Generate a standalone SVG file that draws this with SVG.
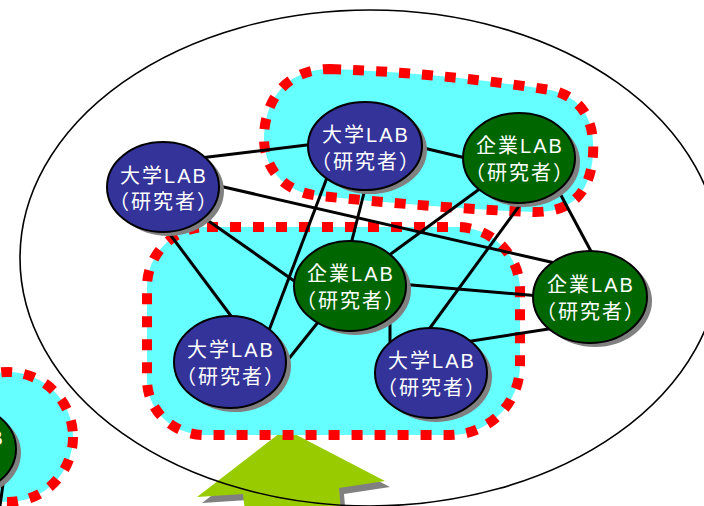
<svg xmlns="http://www.w3.org/2000/svg" width="704" height="506" viewBox="0 0 704 506">
<style>
.blob{fill:#66FFFF;stroke:#FF0000;stroke-width:10;stroke-dasharray:11 12}
.edge{stroke:#000;stroke-width:3;fill:none;stroke-linecap:butt}
.shadow{fill:#808080}
.univ{fill:#333399;stroke:#000;stroke-width:2}
.corp{fill:#006600;stroke:#000;stroke-width:2}
.lbl{font-family:"Liberation Sans","Noto Sans CJK JP",sans-serif;font-size:20px;fill:#fff;text-anchor:middle;letter-spacing:2px}
</style>
<rect width="704" height="506" fill="#fff"/>
<g id="arrow">
<polygon class="shadow" points="290,435 390,487 344,494 346,518 250,518 248,500 202,503"/>
<polygon fill="#99CC00" points="285,429 385,481 339,488 341,512 245,512 243,494 197,497"/>
</g>
<ellipse id="boundary" cx="370" cy="258" rx="350" ry="248" fill="none" stroke="#000" stroke-width="1.6"/>
<g id="blobs">
<circle class="blob" cx="8" cy="437" r="65"/>
<path class="blob" d="M 330,69 C 420,72 500,82 550,90 C 585,97 595,125 593,155 C 590,195 570,212 535,212 C 470,210 380,202 320,196 C 280,192 263,165 264,135 C 266,95 290,69 330,69 Z"/>
<path class="blob" d="M 207,227 L 457,227 A 63 63 0 0 1 520,290 L 520,365 A 70 70 0 0 1 450,435 L 205,435 A 58 55 0 0 1 147,380 L 147,287 A 60 60 0 0 1 207,227 Z"/>
</g>
<g id="connectors">
<line class="edge" x1="200" y1="158" x2="315" y2="144"/>
<line class="edge" x1="215" y1="185" x2="555" y2="263"/>
<line class="edge" x1="200" y1="215" x2="300" y2="285"/>
<line class="edge" x1="163" y1="225" x2="234" y2="320"/>
<line class="edge" x1="328" y1="175" x2="268" y2="333"/>
<line class="edge" x1="366" y1="185" x2="350" y2="248"/>
<line class="edge" x1="415" y1="146" x2="470" y2="159"/>
<line class="edge" x1="485" y1="185" x2="388" y2="256"/>
<line class="edge" x1="525" y1="198" x2="427" y2="332"/>
<line class="edge" x1="556" y1="186" x2="593" y2="255"/>
<line class="edge" x1="400" y1="284" x2="540" y2="296"/>
<line class="edge" x1="390" y1="315" x2="390" y2="343"/>
<line class="edge" x1="323" y1="316" x2="283" y2="366"/>
<line class="edge" x1="465" y1="342" x2="555" y2="328"/>
<line class="edge" x1="9" y1="440" x2="0" y2="506"/>
</g>
<g id="n0">
<ellipse class="shadow" cx="-35" cy="453" rx="56" ry="45"/>
<ellipse class="corp" cx="-40" cy="449" rx="56" ry="45"/>
<text class="lbl" x="-39" y="445">企業LAB</text>
</g>
<g id="n1">
<ellipse class="shadow" cx="168" cy="191" rx="56" ry="45"/>
<ellipse class="univ" cx="163" cy="187" rx="56" ry="45"/>
<text class="lbl" x="164" y="183">大学LAB</text>
<text class="lbl" x="164" y="209">（研究者）</text>
</g>
<g id="n2">
<ellipse class="shadow" cx="370" cy="150" rx="57" ry="44"/>
<ellipse class="univ" cx="365" cy="146" rx="57" ry="44"/>
<text class="lbl" x="366" y="142">大学LAB</text>
<text class="lbl" x="366" y="169">（研究者）</text>
</g>
<g id="n3">
<ellipse class="shadow" cx="524" cy="162" rx="56" ry="45"/>
<ellipse class="corp" cx="519" cy="158" rx="56" ry="45"/>
<text class="lbl" x="520" y="153">企業LAB</text>
<text class="lbl" x="520" y="180">（研究者）</text>
</g>
<g id="n4">
<ellipse class="shadow" cx="355" cy="290" rx="56" ry="45"/>
<ellipse class="corp" cx="350" cy="286" rx="56" ry="45"/>
<text class="lbl" x="351" y="281">企業LAB</text>
<text class="lbl" x="351" y="308">（研究者）</text>
</g>
<g id="n5">
<ellipse class="shadow" cx="595" cy="301" rx="57" ry="46"/>
<ellipse class="corp" cx="590" cy="297" rx="57" ry="46"/>
<text class="lbl" x="591" y="292">企業LAB</text>
<text class="lbl" x="591" y="319">（研究者）</text>
</g>
<g id="n6">
<ellipse class="shadow" cx="235" cy="366" rx="56" ry="46"/>
<ellipse class="univ" cx="230" cy="362" rx="56" ry="46"/>
<text class="lbl" x="231" y="357">大学LAB</text>
<text class="lbl" x="231" y="384">（研究者）</text>
</g>
<g id="n7">
<ellipse class="shadow" cx="436" cy="377" rx="56" ry="45"/>
<ellipse class="univ" cx="431" cy="373" rx="56" ry="45"/>
<text class="lbl" x="432" y="368">大学LAB</text>
<text class="lbl" x="432" y="395">（研究者）</text>
</g>
</svg>
